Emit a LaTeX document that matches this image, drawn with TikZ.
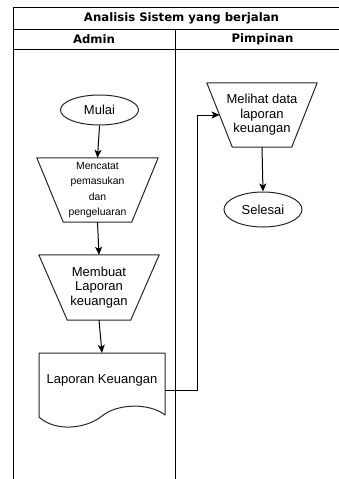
\documentclass[tikz,border=0pt]{standalone}
\usepackage{fontspec}
\setmainfont{Liberation Sans}
\newfontfamily\hdrfont{DejaVu Sans}
\usetikzlibrary{shapes.geometric,arrows.meta}
\begin{document}
\begin{tikzpicture}[x=1pt,y=-1pt,
  lane/.style={draw=black,line width=1pt},
  hdr/.style={font=\hdrfont\bfseries\fontsize{11.7}{13}\selectfont, inner sep=0pt},
  term/.style={ellipse, draw=black!85, line width=1pt, minimum width=78pt, minimum height=30pt, inner sep=0pt, font=\fontsize{13}{15}\selectfont},
  box/.style={rectangle, inner sep=0pt, align=center, font=\fontsize{13}{14.5}\selectfont},
  outl/.style={draw=black!85, line width=1pt, line join=round},
  arr/.style={-{Stealth[length=8pt,width=7pt,inset=2pt]}, line width=1pt, draw=black}
]
\useasboundingbox (0,0) rectangle (339,479);
% swimlane frame
\draw[lane] (13,7.5) rectangle (350,495);
\draw[lane] (13,29) -- (350,29);
\draw[lane] (13,49) -- (350,49);
\draw[lane] (175,29) -- (175,495);
\node[hdr] (title) at (181.5,18.5) {Analisis Sistem yang berjalan};
\node[hdr] (admin) at (94,39.5) {Admin};
\node[hdr] (pimpinan) at (262.5,39.5) {Pimpinan};

% Admin lane
\node[term] (mulai) at (99.5,110) {Mulai};

\node[box, minimum width=121pt, minimum height=64pt, font=\fontsize{10.4}{15.3}\selectfont] (t1) at (97.5,190) {Mencatat\\pemasukan\\dan\\pengeluaran};
\draw[outl] (t1.north west) -- (t1.north east) -- ([xshift=-26.5pt]t1.south east) -- ([xshift=26.5pt]t1.south west) -- cycle;

\node[box, minimum width=120pt, minimum height=65pt] (t2) at (99,287.5) {Membuat\\Laporan\\keuangan};
\draw[outl] (t2.north west) -- (t2.north east) -- ([xshift=-28.5pt]t2.south east) -- ([xshift=28.5pt]t2.south west) -- cycle;

\node[box, minimum width=126pt, minimum height=74pt] (doc) at (102,390) {};
\draw[outl] (39,353) -- (165,353) -- (165,415) .. controls (150,403) and (118,403) .. (102,416) .. controls (86,429) and (55,432) .. (39,417) -- cycle;
\node[box] (doctext) at (102,380) {Laporan Keuangan};

% Pimpinan lane
\node[box, minimum width=110pt, minimum height=64pt] (t3) at (262,115) {Melihat data\\laporan\\keuangan};
\draw[outl] (t3.north west) -- (t3.north east) -- ([xshift=-25.5pt]t3.south east) -- ([xshift=25.5pt]t3.south west) -- cycle;
\coordinate (t3in) at ([xshift=12.75pt]t3.west);

\node[term, minimum height=35pt] (selesai) at (263,209.5) {Selesai};

% connectors
\draw[arr] (mulai.south) -- (t1.north);
\draw[arr] (t1.south) -- (t2.north);
\draw[arr] (t2.south) -- (doc.north);
\draw[arr] (doc.east) -- ++(32,0) |- (t3in);
\draw[arr] (t3.south) -- (selesai.north);
\end{tikzpicture}
\end{document}
